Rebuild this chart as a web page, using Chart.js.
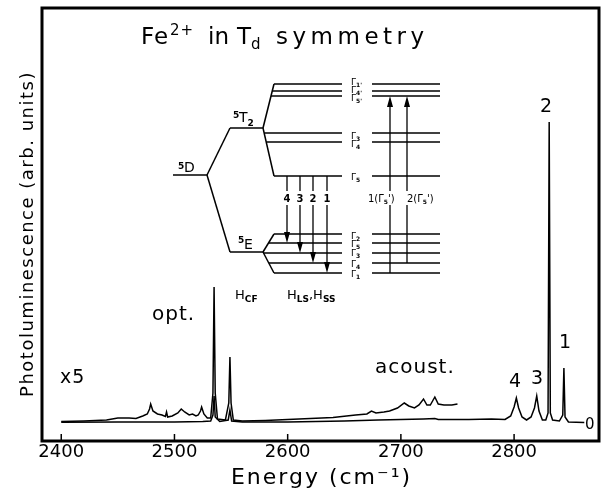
<!DOCTYPE html>
<html>
<head>
<meta charset="utf-8">
<script src="https://cdn.jsdelivr.net/npm/chart.js@4.4.0/dist/chart.umd.min.js"></script>
<style>
  body { margin: 0; background: #fff; }
</style>
</head>
<body>
<canvas id="chart" width="603" height="490"></canvas>
<script>
// spectrum, energy in cm-1, intensity in arb. units
var mainEnergy = [2400, 2450, 2500, 2525, 2532, 2534, 2535, 2536, 2540, 2547.5, 2549, 2550.5, 2560, 2600, 2650, 2680, 2700, 2720, 2730, 2733, 2760, 2780, 2792, 2797, 2800, 2802, 2804, 2807, 2811, 2815, 2818, 2820, 2822, 2825, 2828, 2830, 2831, 2832, 2834, 2840, 2843, 2844, 2845, 2848, 2862];
var mainSignal = [0.8, 1, 1, 1.5, 2, 8, 27, 6, 1.5, 3, 13, 2, 1, 1, 2, 3, 3.5, 4, 4.5, 3.5, 3.5, 4, 3.5, 7, 16, 25, 15, 6, 3, 6, 15, 27, 12, 3, 3, 10, 301, 10, 3, 2, 8, 55, 6, 1, 0.5];

// the x5 magnified trace
var x5Energy = [2400, 2420, 2440, 2450, 2460, 2466, 2472, 2476, 2478, 2479, 2481, 2485, 2489, 2492, 2493, 2494, 2498, 2503, 2506, 2509, 2513, 2516, 2519, 2521, 2523, 2524, 2526, 2529, 2532, 2534, 2535, 2536, 2538, 2545, 2548, 2549, 2550, 2552, 2560, 2580, 2600, 2620, 2640, 2660, 2670, 2674, 2678, 2685, 2690, 2697, 2703, 2707, 2712, 2716, 2720, 2723, 2726, 2730, 2733, 2738, 2745, 2750];
var x5Signal = [1.5, 2, 3, 5, 5, 4.5, 7, 9, 14, 19, 12, 9, 8, 6.5, 11, 6, 7, 10, 14, 11, 8, 9, 7, 8, 12, 16, 9, 5, 5, 30, 136, 30, 4, 3, 20, 66, 20, 3, 2, 2.5, 3.5, 4.5, 5.5, 8, 9, 12, 10, 11, 12, 15, 20, 17, 15, 18, 24, 18, 18, 26, 19, 18, 18, 19];

var xTicks = [2400, 2500, 2600, 2700, 2800];

var FONT = '"DejaVu Sans"';

function toPoints(xs, ys) {
  var pts = [];
  for (var i in xs) {
    pts.push({x: xs[i], y: ys[i]});
  }
  return pts;
}

function seg(c, x1, y1, x2, y2) {
  c.beginPath();
  c.moveTo(x1, y1);
  c.lineTo(x2, y2);
  c.stroke();
}

// arrow head, dir 1 = pointing down, -1 = pointing up
function head(c, x, y, dir) {
  c.beginPath();
  c.moveTo(x, y);
  c.lineTo(x - 3, y - dir * 11);
  c.lineTo(x + 3, y - dir * 11);
  c.closePath();
  c.fill();
}

// draw text pieces one after another: [text, size, dy, bold]
function runs(c, x, y, parts) {
  parts.forEach(function(p) {
    c.font = (p[3] ? 'bold ' : '') + p[1] + 'px ' + FONT;
    c.fillText(p[0], x, y + (p[2] || 0));
    x += c.measureText(p[0]).width;
  });
  return x;
}

function gam(c, x, y, sub, prime) {
  runs(c, x, y, [['\u0393', 9, 0], [sub + (prime ? "'" : ''), 6, 2, true]]);
}

var figurePlugin = {
  id: 'figure',
  afterDraw: function(chart) {
    var c = chart.ctx;
    var a = chart.chartArea;
    var xs = chart.scales.x;
    c.save();
    c.strokeStyle = '#000';
    c.fillStyle = '#000';

    // inward ticks and frame
    c.lineWidth = 1.5;
    xTicks.forEach(function(v) {
      var px = xs.getPixelForValue(v);
      seg(c, px, a.bottom, px, a.bottom - 7);
    });
    c.lineWidth = 3;
    c.strokeRect(a.left, a.top, a.right - a.left, a.bottom - a.top);

    // x title, a bit spaced out like the original lettering
    c.textAlign = 'center';
    c.textBaseline = 'middle';
    c.letterSpacing = '2px';
    c.font = '22px ' + FONT;
    c.fillText('Energy (cm\u207B\u00B9)', (a.left + a.right) / 2 + 1, a.bottom + 37);

    // everything below is laid out against the frame corner
    c.translate(a.left - 42, a.top - 8);

    // y title
    c.save();
    c.translate(28, 234);
    c.rotate(-Math.PI / 2);
    c.letterSpacing = '1.5px';
    c.font = '18px ' + FONT;
    c.fillText('Photoluminescence (arb. units)', 0, 0);
    c.restore();

    c.textAlign = 'left';
    c.textBaseline = 'alphabetic';

    // title
    c.letterSpacing = '1px';
    runs(c, 141, 44, [['Fe', 23, 0]]);
    runs(c, 170, 35, [['2+', 15, 0]]);
    c.letterSpacing = '0px';
    runs(c, 208, 44, [['in', 23, 0]]);
    runs(c, 237, 44, [['T', 23, 0]]);
    runs(c, 251, 49, [['d', 15, 0]]);
    c.letterSpacing = '4.5px';
    runs(c, 276, 44, [['symmetry', 23, 0]]);

    // peak labels
    c.letterSpacing = '1px';
    runs(c, 152, 320, [['opt.', 20, 0]]);
    runs(c, 60, 383, [['x5', 19, 0]]);
    runs(c, 375, 373, [['acoust.', 20, 0]]);
    c.letterSpacing = '0px';
    runs(c, 509, 387, [['4', 19, 0]]);
    runs(c, 531, 384, [['3', 19, 0]]);
    runs(c, 540, 112, [['2', 19, 0]]);
    runs(c, 559, 348, [['1', 19, 0]]);
    runs(c, 585, 429, [['0', 15, 0]]);

    // level diagram
    c.lineWidth = 1.5;
    seg(c, 173, 175, 207, 175);
    seg(c, 207, 175, 230, 128);
    seg(c, 207, 175, 230, 252);
    seg(c, 230, 128, 263, 128);
    seg(c, 230, 252, 263, 252);
    // 5T2 fan
    seg(c, 263, 128, 274, 84);
    seg(c, 263, 128, 274, 176);
    seg(c, 274, 84, 342, 84);
    seg(c, 272.3, 91, 342, 91);
    seg(c, 271, 96, 342, 96);
    seg(c, 264.2, 133, 342, 133);
    seg(c, 266.3, 142, 342, 142);
    seg(c, 274, 176, 342, 176);
    // 5E fan
    seg(c, 263, 252, 274, 234);
    seg(c, 263, 252, 274, 273);
    seg(c, 274, 234, 342, 234);
    seg(c, 268.5, 243, 342, 243);
    seg(c, 263.6, 253, 342, 253);
    seg(c, 268.8, 263, 342, 263);
    seg(c, 274, 273, 342, 273);
    // right copy of the levels
    [84, 91, 96, 133, 142, 176, 234, 243, 253, 263, 273].forEach(function(y) {
      seg(c, 372, y, 440, y);
    });

    // emission arrows 4 3 2 1
    var down = [[287, 243, '4'], [300, 253, '3'], [313, 263, '2'], [327, 273, '1']];
    c.lineWidth = 1.3;
    down.forEach(function(d) {
      seg(c, d[0], 176, d[0], 191);
      seg(c, d[0], 205, d[0], d[1] - 8);
      head(c, d[0], d[1], 1);
      c.font = 'bold 10px ' + FONT;
      c.textAlign = 'center';
      c.fillText(d[2], d[0], 202);
      c.textAlign = 'left';
    });

    // absorption arrows
    seg(c, 390, 273, 390, 205);
    seg(c, 390, 191, 390, 104);
    head(c, 390, 96, -1);
    seg(c, 407, 263, 407, 205);
    seg(c, 407, 191, 407, 104);
    head(c, 407, 96, -1);
    runs(c, 368, 202, [['1(\u0393', 10, 0], ['5', 6, 2, true], ["')", 10, 0]]);
    runs(c, 407, 202, [['2(\u0393', 10, 0], ['5', 6, 2, true], ["')", 10, 0]]);

    // gamma labels
    gam(c, 351, 85, '1', true);
    gam(c, 351, 93, '4', true);
    gam(c, 351, 101, '5', true);
    gam(c, 351, 139, '3');
    gam(c, 351, 147, '4');
    gam(c, 351, 180, '5');
    gam(c, 351, 239, '2');
    gam(c, 351, 247, '5');
    gam(c, 351, 256, '3');
    gam(c, 351, 267, '4');
    gam(c, 351, 277, '1');

    // state labels
    runs(c, 178, 169, [['5', 9, 0, true]]);
    runs(c, 184, 172, [['D', 14, 0]]);
    runs(c, 233, 118, [['5', 9, 0, true]]);
    runs(c, 239, 122, [['T', 14, 0], ['2', 9, 4, true]]);
    runs(c, 238, 243, [['5', 9, 0, true]]);
    runs(c, 244, 249, [['E', 14, 0]]);

    // hamiltonian labels
    runs(c, 235, 299, [['H', 13, 0], ['CF', 9, 3, true]]);
    runs(c, 287, 299, [['H', 13, 0], ['LS', 9, 3, true], [',', 13, 0], ['H', 13, 0], ['SS', 9, 3, true]]);

    c.restore();
  }
};

var ctx = document.getElementById('chart');

var spectrumChart = new Chart(ctx, {
  type: 'line',
  data: {
    datasets: [
      {
        label: 'x1',
        data: toPoints(mainEnergy, mainSignal),
        borderColor: '#000',
        borderWidth: 1.5,
        pointRadius: 0,
        tension: 0
      },
      {
        label: 'x5',
        data: toPoints(x5Energy, x5Signal),
        borderColor: '#000',
        borderWidth: 1.5,
        pointRadius: 0,
        tension: 0
      }
    ]
  },
  options: {
    responsive: false,
    animation: false,
    layout: { padding: { top: 8, right: 4, left: 0, bottom: 0 } },
    plugins: {
      legend: { display: false },
      tooltip: { enabled: false }
    },
    scales: {
      x: {
        type: 'linear',
        min: 2383,
        max: 2875,
        afterFit: function(s) { s.height = 49; },
        afterBuildTicks: function(s) {
          s.ticks = xTicks.map(function(v) { return {value: v}; });
        },
        grid: { display: false, drawTicks: false },
        border: { display: false },
        ticks: {
          color: '#000',
          padding: 1,
          maxRotation: 0,
          font: { family: 'DejaVu Sans', size: 18 },
          callback: function(v) { return String(v); }
        },
        title: { display: false }
      },
      y: {
        min: -18,
        max: 415,
        afterFit: function(s) { s.width = 42; },
        ticks: { display: false },
        grid: { display: false, drawTicks: false },
        border: { display: false }
      }
    }
  },
  plugins: [figurePlugin]
});
</script>
</body>
</html>
